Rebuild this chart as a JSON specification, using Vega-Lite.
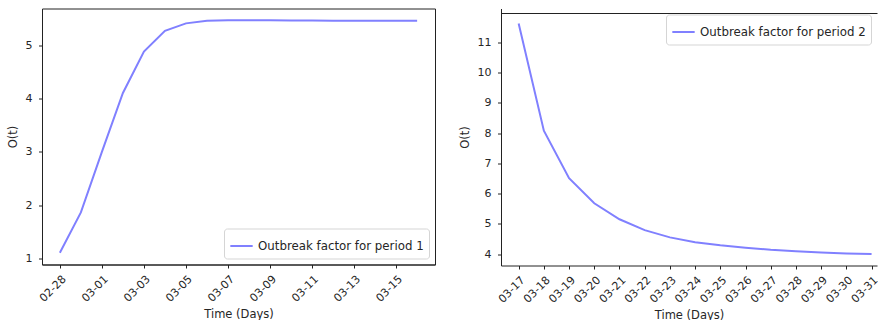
{
  "$schema": "https://vega.github.io/schema/vega-lite/v6.json",
  "padding": {"left": 7, "top": 7.5, "right": 0, "bottom": 0},
  "background": "white",
  "datasets": {
    "p1": [
      {"date": "2020-02-28", "value": 1.10, "series": "Outbreak factor for period 1"},
      {"date": "2020-02-29", "value": 1.86, "series": "Outbreak factor for period 1"},
      {"date": "2020-03-01", "value": 3.00, "series": "Outbreak factor for period 1"},
      {"date": "2020-03-02", "value": 4.11, "series": "Outbreak factor for period 1"},
      {"date": "2020-03-03", "value": 4.89, "series": "Outbreak factor for period 1"},
      {"date": "2020-03-04", "value": 5.28, "series": "Outbreak factor for period 1"},
      {"date": "2020-03-05", "value": 5.42, "series": "Outbreak factor for period 1"},
      {"date": "2020-03-06", "value": 5.47, "series": "Outbreak factor for period 1"},
      {"date": "2020-03-07", "value": 5.48, "series": "Outbreak factor for period 1"},
      {"date": "2020-03-08", "value": 5.48, "series": "Outbreak factor for period 1"},
      {"date": "2020-03-09", "value": 5.48, "series": "Outbreak factor for period 1"},
      {"date": "2020-03-10", "value": 5.475, "series": "Outbreak factor for period 1"},
      {"date": "2020-03-11", "value": 5.475, "series": "Outbreak factor for period 1"},
      {"date": "2020-03-12", "value": 5.47, "series": "Outbreak factor for period 1"},
      {"date": "2020-03-13", "value": 5.47, "series": "Outbreak factor for period 1"},
      {"date": "2020-03-14", "value": 5.47, "series": "Outbreak factor for period 1"},
      {"date": "2020-03-15", "value": 5.47, "series": "Outbreak factor for period 1"},
      {"date": "2020-03-16", "value": 5.47, "series": "Outbreak factor for period 1"}
    ],
    "p2": [
      {"date": "2020-03-17", "value": 11.63, "series": "Outbreak factor for period 2"},
      {"date": "2020-03-18", "value": 8.08, "series": "Outbreak factor for period 2"},
      {"date": "2020-03-19", "value": 6.51, "series": "Outbreak factor for period 2"},
      {"date": "2020-03-20", "value": 5.68, "series": "Outbreak factor for period 2"},
      {"date": "2020-03-21", "value": 5.15, "series": "Outbreak factor for period 2"},
      {"date": "2020-03-22", "value": 4.79, "series": "Outbreak factor for period 2"},
      {"date": "2020-03-23", "value": 4.55, "series": "Outbreak factor for period 2"},
      {"date": "2020-03-24", "value": 4.39, "series": "Outbreak factor for period 2"},
      {"date": "2020-03-25", "value": 4.29, "series": "Outbreak factor for period 2"},
      {"date": "2020-03-26", "value": 4.21, "series": "Outbreak factor for period 2"},
      {"date": "2020-03-27", "value": 4.14, "series": "Outbreak factor for period 2"},
      {"date": "2020-03-28", "value": 4.09, "series": "Outbreak factor for period 2"},
      {"date": "2020-03-29", "value": 4.05, "series": "Outbreak factor for period 2"},
      {"date": "2020-03-30", "value": 4.02, "series": "Outbreak factor for period 2"},
      {"date": "2020-03-31", "value": 4.00, "series": "Outbreak factor for period 2"}
    ]
  },
  "spacing": 23,
  "resolve": {"scale": {"color": "independent", "x": "independent", "y": "independent"}, "legend": {"color": "independent"}},
  "hconcat": [
    {
      "width": 393,
      "height": 256,
      "data": {"name": "p1"},
      "mark": {"type": "line", "strokeWidth": 2, "clip": true},
      "encoding": {
        "x": {
          "field": "date", "type": "temporal", "title": "Time (Days)",
          "scale": {"type": "utc", "domain": [
            {"year": 2020, "month": 2, "date": 27, "hours": 3, "minutes": 36, "utc": true},
            {"year": 2020, "month": 3, "date": 16, "hours": 20, "minutes": 24, "utc": true}
          ]},
          "axis": {
            "format": "%m-%d",
            "values": [
              {"year": 2020, "month": 2, "date": 28, "utc": true},
              {"year": 2020, "month": 3, "date": 1, "utc": true},
              {"year": 2020, "month": 3, "date": 3, "utc": true},
              {"year": 2020, "month": 3, "date": 5, "utc": true},
              {"year": 2020, "month": 3, "date": 7, "utc": true},
              {"year": 2020, "month": 3, "date": 9, "utc": true},
              {"year": 2020, "month": 3, "date": 11, "utc": true},
              {"year": 2020, "month": 3, "date": 13, "utc": true},
              {"year": 2020, "month": 3, "date": 15, "utc": true}
            ]
          }
        },
        "y": {
          "field": "value", "type": "quantitative", "title": "O(t)",
          "scale": {"domain": [0.88, 5.70], "nice": false, "zero": false},
          "axis": {"values": [1, 2, 3, 4, 5]}
        },
        "color": {
          "field": "series", "type": "nominal",
          "scale": {"range": ["#8080ff"]},
          "legend": {"orient": "bottom-right", "title": null}
        }
      }
    },
    {
      "width": 376,
      "height": 257,
      "data": {"name": "p2"},
      "view": {"stroke": null},
      "resolve": {"axis": {"x": "independent", "y": "independent"}},
      "layer": [
        {
          "mark": {"type": "line", "strokeWidth": 2, "clip": true},
          "encoding": {
            "x": {
              "field": "date", "type": "temporal", "title": "Time (Days)",
              "scale": {"type": "utc", "domain": [
                {"year": 2020, "month": 3, "date": 16, "hours": 7, "minutes": 12, "utc": true},
                {"year": 2020, "month": 3, "date": 31, "hours": 5, "minutes": 10, "utc": true}
              ]},
              "axis": {
                "orient": "bottom",
                "format": "%m-%d",
                "values": [
                  {"year": 2020, "month": 3, "date": 17, "utc": true},
                  {"year": 2020, "month": 3, "date": 18, "utc": true},
                  {"year": 2020, "month": 3, "date": 19, "utc": true},
                  {"year": 2020, "month": 3, "date": 20, "utc": true},
                  {"year": 2020, "month": 3, "date": 21, "utc": true},
                  {"year": 2020, "month": 3, "date": 22, "utc": true},
                  {"year": 2020, "month": 3, "date": 23, "utc": true},
                  {"year": 2020, "month": 3, "date": 24, "utc": true},
                  {"year": 2020, "month": 3, "date": 25, "utc": true},
                  {"year": 2020, "month": 3, "date": 26, "utc": true},
                  {"year": 2020, "month": 3, "date": 27, "utc": true},
                  {"year": 2020, "month": 3, "date": 28, "utc": true},
                  {"year": 2020, "month": 3, "date": 29, "utc": true},
                  {"year": 2020, "month": 3, "date": 30, "utc": true},
                  {"year": 2020, "month": 3, "date": 31, "utc": true}
                ]
              }
            },
            "y": {
              "field": "value", "type": "quantitative", "title": "O(t)",
              "scale": {"domain": [3.62, 12.126], "nice": false, "zero": false},
              "axis": {"orient": "left", "values": [4, 5, 6, 7, 8, 9, 10, 11]}
            },
            "color": {
              "field": "series", "type": "nominal",
              "scale": {"range": ["#8080ff"]},
              "legend": {"orient": "top-right", "title": null, "offset": 6}
            }
          }
        },
        {
          "mark": {"type": "line", "strokeOpacity": 0, "clip": true},
          "encoding": {
            "x": {
              "field": "date", "type": "temporal",
              "axis": {"orient": "top", "labels": false, "ticks": false, "title": null, "offset": -4.5, "domainColor": "#222222"}
            },
            "y": {"field": "value", "type": "quantitative", "axis": null}
          }
        }
      ]
    }
  ],
  "config": {
    "font": "DejaVu Sans",
    "view": {"stroke": "#222222", "strokeWidth": 1},
    "axis": {
      "grid": false,
      "domainColor": "#222222",
      "tickColor": "#222222",
      "tickSize": 3.5,
      "labelFont": "DejaVu Sans",
      "labelFontSize": 11,
      "labelColor": "#262626",
      "labelPadding": 6.5,
      "labelOverlap": false,
      "labelBound": false,
      "titleFont": "DejaVu Sans",
      "titleFontSize": 11.5,
      "titleFontWeight": "normal",
      "titleColor": "#262626"
    },
    "axisX": {"labelAngle": -45, "labelAlign": "right", "labelBaseline": "top", "labelPadding": 5, "titlePadding": 5},
    "axisY": {"titlePadding": 6.5},
    "legend": {
      "symbolType": "stroke",
      "symbolSize": 500,
      "symbolStrokeWidth": 2,
      "labelFont": "DejaVu Sans",
      "labelFontSize": 11.8,
      "labelColor": "#262626",
      "labelLimit": 300,
      "strokeColor": "#d5d5d5",
      "fillColor": "white",
      "cornerRadius": 3,
      "padding": 5,
      "offset": 6
    }
  }
}
